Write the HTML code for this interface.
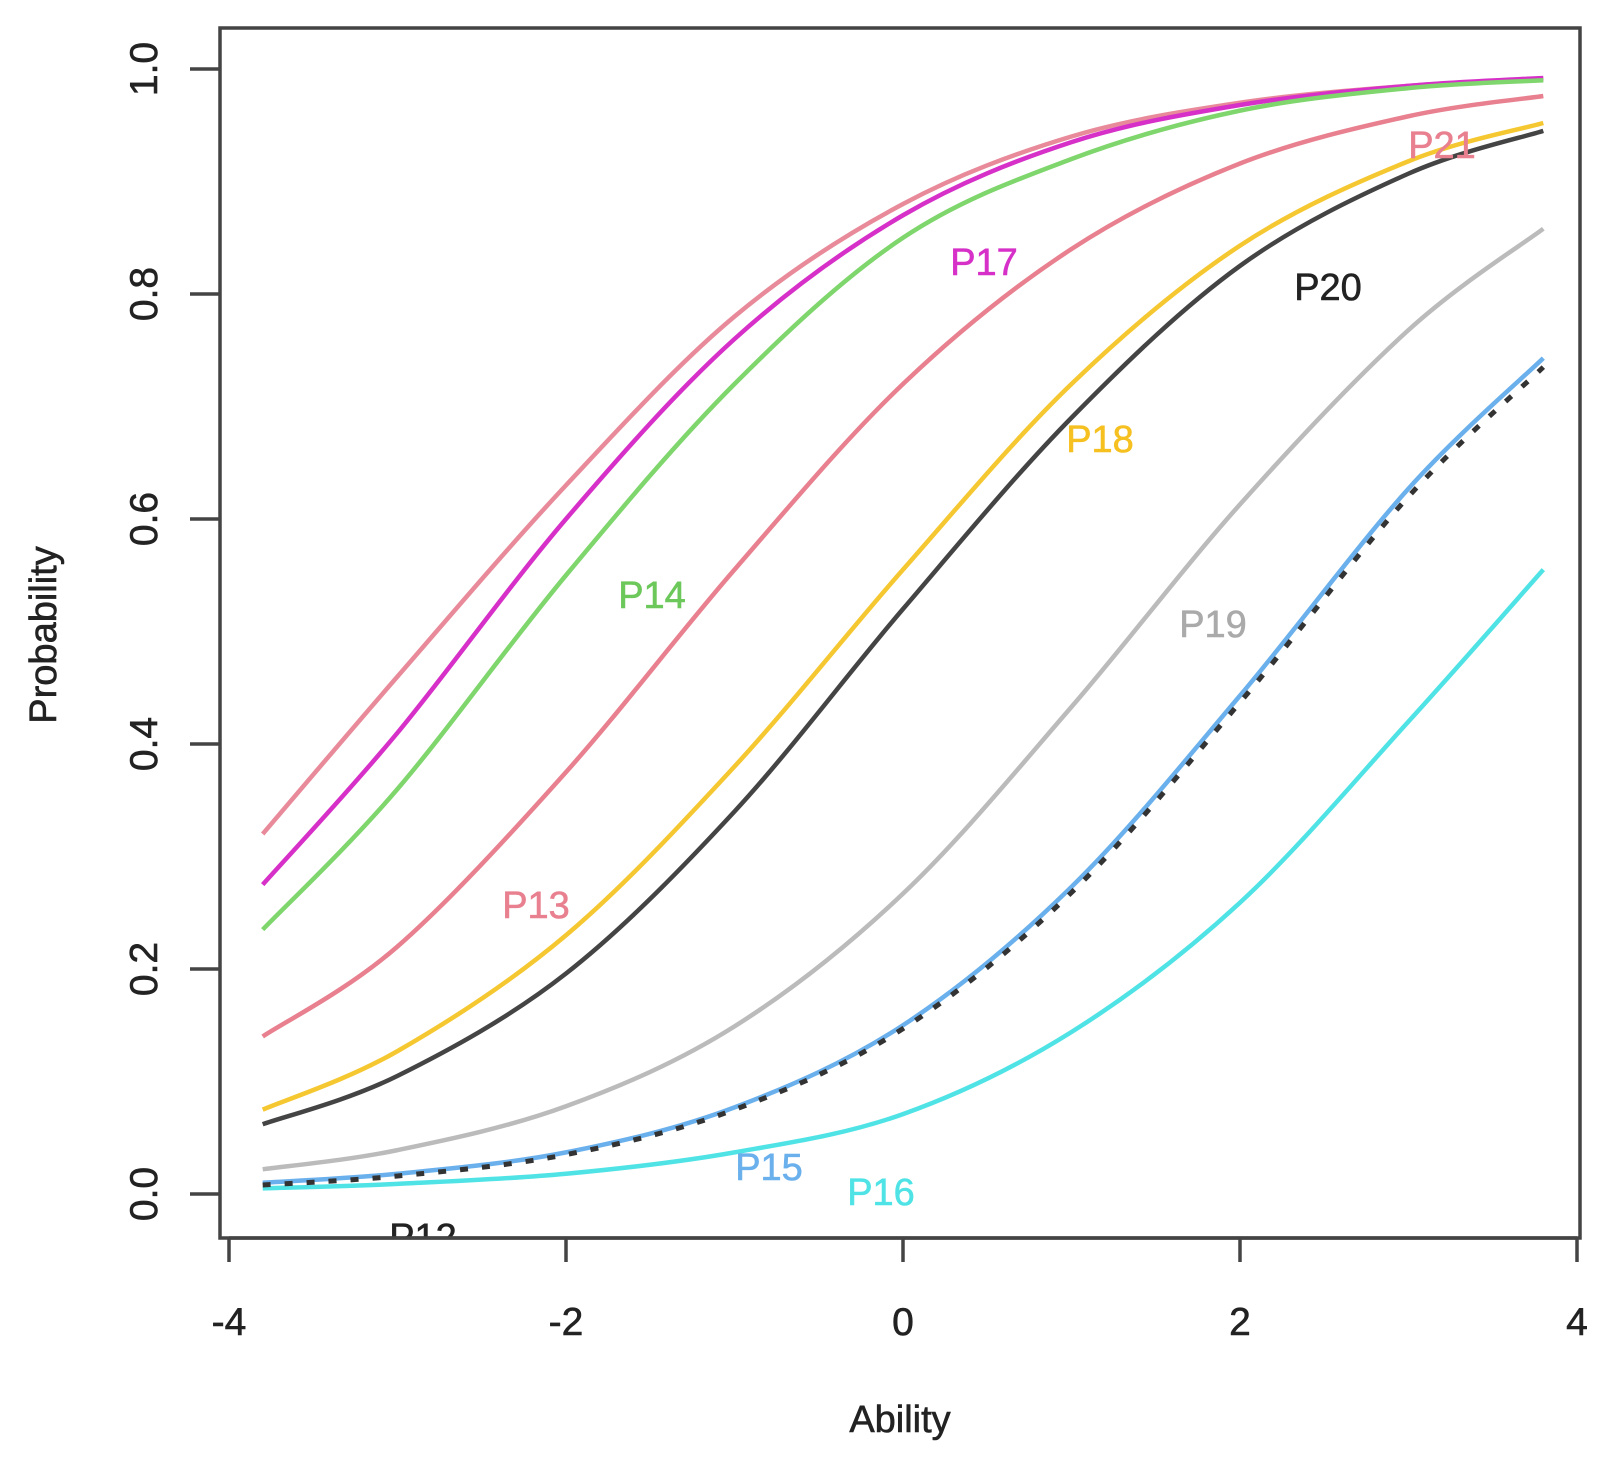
<!DOCTYPE html>
<html><head><meta charset="utf-8"><style>
body{margin:0;background:#fff}
svg{display:block;font-family:"Liberation Sans",sans-serif}
</style></head><body>
<svg id="chart" width="1609" height="1462" viewBox="0 0 1609 1462" xmlns="http://www.w3.org/2000/svg">
<defs><clipPath id="plotclip"><rect x="220" y="28" width="1360" height="1210"/></clipPath></defs>
<rect x="0" y="0" width="1609" height="1462" fill="#fff"/>
<g id="axes"></g>
<g id="curves" clip-path="url(#plotclip)"></g>
<g id="labels" clip-path="url(#plotclip)"></g>
<rect x="220" y="28" width="1360" height="1210" fill="none" stroke="#444" stroke-width="3.5"/>
<text x="900" y="1432" font-size="38" text-anchor="middle" fill="#222" stroke="#222" stroke-width="0.6">Ability</text>
<text x="0" y="0" transform="translate(56,635) rotate(-90)" font-size="38" text-anchor="middle" fill="#222" stroke="#222" stroke-width="0.6">Probability</text>
</svg>
<script>
const abilityPoints = [-3.8,-3,-2,-1,0,1,2,3,3.8];
const seriesNames = ["P21","P17","P14","P13","P18","P20","P19","P12","P15","P16"];
const seriesTop = [0.32,0.46,0.63,0.78,0.88,0.94,0.97,0.985,0.991];
const seriesP17 = [0.275,0.41,0.60,0.76,0.87,0.935,0.968,0.985,0.992];
const seriesP14 = [0.235,0.36,0.55,0.72,0.85,0.92,0.963,0.983,0.990];
const seriesP13 = [0.14,0.22,0.375,0.555,0.72,0.84,0.916,0.958,0.976];
const seriesP18 = [0.075,0.127,0.23,0.38,0.555,0.72,0.843,0.918,0.952];
const seriesP20 = [0.062,0.105,0.196,0.34,0.52,0.69,0.825,0.907,0.945];
const seriesP19 = [0.022,0.039,0.078,0.149,0.267,0.433,0.613,0.768,0.858];
const seriesP12 = [0.008,0.016,0.035,0.075,0.147,0.268,0.437,0.62,0.735];
const seriesP15 = [0.01,0.018,0.037,0.077,0.15,0.273,0.443,0.627,0.743];
const seriesP16 = [0.005,0.009,0.018,0.037,0.071,0.144,0.259,0.42,0.555];
const xTicks = [-4,-2,0,2,4];
const yTicks = [0,0.2,0.4,0.6,0.8,1.0];
const yTickLabels = ["0.0","0.2","0.4","0.6","0.8","1.0"];

const NS="http://www.w3.org/2000/svg";
function xs(v){return 903+v*168.5;}
function ys(v){return 1194-v*1125;}
function mk(tag,attrs,parent){const e=document.createElementNS(NS,tag);for(const k in attrs)e.setAttribute(k,attrs[k]);parent.appendChild(e);return e;}
const axes=document.getElementById('axes');
mk('line',{x1:xs(-4),x2:xs(4),y1:1238,y2:1238,stroke:'#444','stroke-width':3.5},axes);
xTicks.forEach(t=>{
  const l=mk('line',{x1:xs(t),x2:xs(t),y1:1238,y2:1262,stroke:'#444','stroke-width':3.5},axes);
  
  
  const tx=mk('text',{x:xs(t),y:1335,'font-size':39,'text-anchor':'middle',fill:'#222',stroke:'#222','stroke-width':0.6},axes);
  tx.textContent=String(t);
  
  
});
yTicks.forEach((t,i)=>{
  const l=mk('line',{x1:190,x2:220,y1:ys(t),y2:ys(t),stroke:'#444','stroke-width':3.5},axes);
  
  
  const tx=mk('text',{x:0,y:0,transform:`translate(157,${ys(t)}) rotate(-90)`,'font-size':39,'text-anchor':'middle',fill:'#222',stroke:'#222','stroke-width':0.6},axes);
  tx.textContent=yTickLabels[i];
  
  
});
function pathFor(vals){
  const p=abilityPoints.map((a,i)=>[xs(a),ys(vals[i])]);
  let d=`M${p[0][0]},${p[0][1]}`;
  for(let i=0;i<p.length-1;i++){
    const p0=p[Math.max(i-1,0)],p1=p[i],p2=p[i+1],p3=p[Math.min(i+2,p.length-1)];
    const c1=[p1[0]+(p2[0]-p0[0])/6,p1[1]+(p2[1]-p0[1])/6];
    const c2=[p2[0]-(p3[0]-p1[0])/6,p2[1]-(p3[1]-p1[1])/6];
    d+=` C${c1[0]},${c1[1]} ${c2[0]},${c2[1]} ${p2[0]},${p2[1]}`;
  }
  return d;
}
const curves=document.getElementById('curves');
const seriesList=[
 [seriesTop,'#E88A9A','curve-p21',''],
 [seriesP17,'#D630C8','curve-p17',''],
 [seriesP14,'#7ED66C','curve-p14',''],
 [seriesP13,'#E8808F','curve-p13',''],
 [seriesP18,'#F5C730','curve-p18',''],
 [seriesP20,'#444','curve-p20',''],
 [seriesP19,'#BBBBBB','curve-p19',''],
 [seriesP16,'#4FE3E6','curve-p16',''],
 [seriesP15,'#6AB0EC','curve-p15',''],
 [seriesP12,'#333','curve-p12','8 14']
];
seriesList.forEach(s=>{
  const p=mk('path',{d:pathFor(s[0]),fill:'none',stroke:s[1],'stroke-width':s[3]?5:4.5},curves);
  if(s[3])p.setAttribute('stroke-dasharray',s[3]);
  
  
});
const labels=document.getElementById('labels');
const labelData=[
 ['P17',984,275,'#D630C8'],['P14',652,608,'#6CC85A'],['P13',536,918,'#E8808F'],
 ['P18',1100,452,'#F5C020'],['P20',1328,300,'#222'],['P21',1442,158,'#E8808F'],
 ['P19',1213,637,'#AAAAAA'],['P15',769,1180,'#6AB0EC'],['P16',881,1205,'#4FE3E6'],
 ['P12',423,1250,'#222']
];
labelData.forEach(l=>{
  const t=mk('text',{x:l[1],y:l[2],'font-size':38,'text-anchor':'middle',fill:l[3],stroke:l[3],'stroke-width':0.6},labels);
  t.textContent=l[0];
  
  
});
</script>
</body></html>
